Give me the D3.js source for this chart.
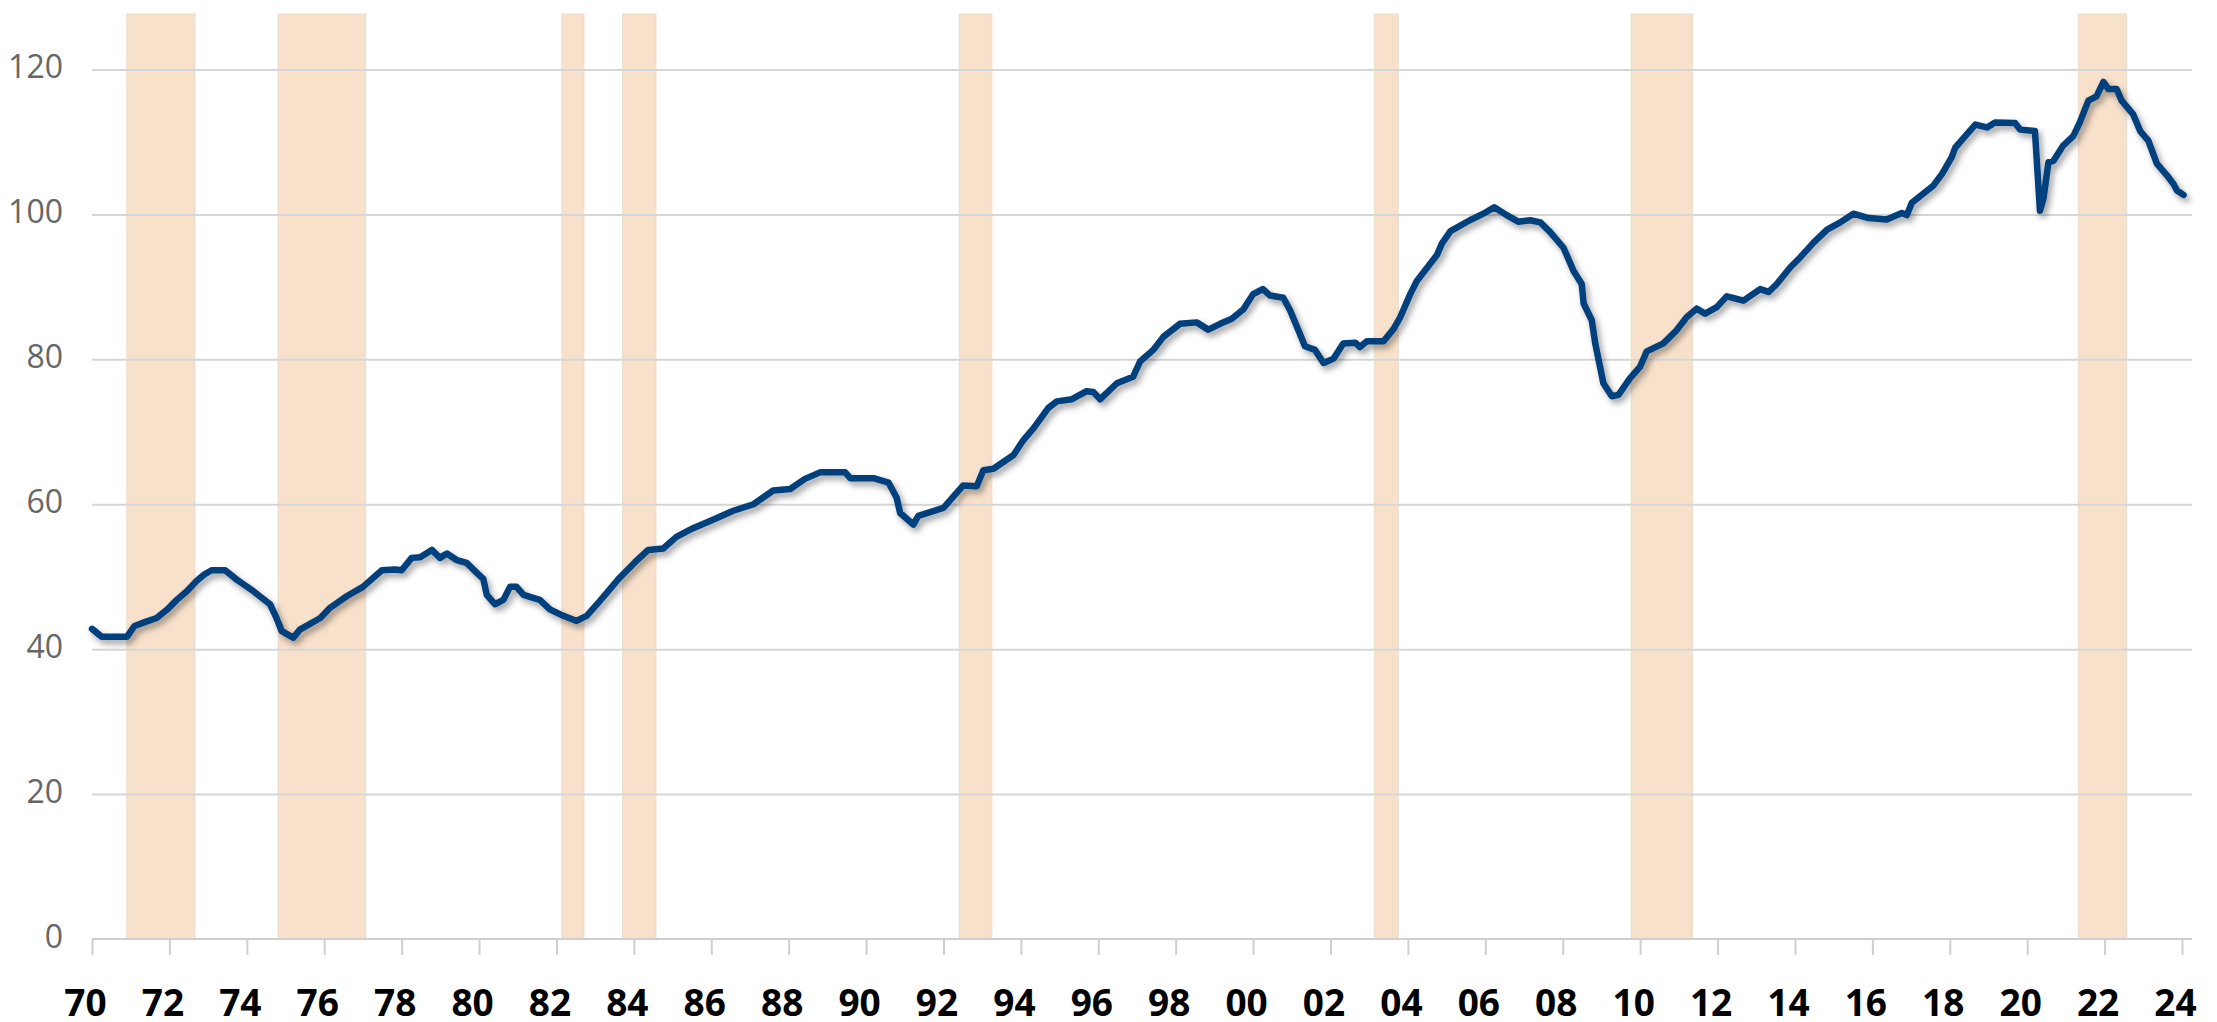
<!DOCTYPE html>
<html>
<head>
<meta charset="utf-8">
<script src="https://cdn.jsdelivr.net/npm/d3@7"></script>
<style>
html,body{margin:0;padding:0;background:#fff;overflow:hidden}
svg{display:block}
</style>
</head>
<body>
<svg id="chart" width="2217" height="1022"></svg>
<script>
// ---- data (decimal years, index values) ----
const years = [
1970.00,1970.25,1970.90,1971.10,1971.40,1971.67,1971.95,1972.19,1972.45,1972.70,1972.90,1973.09,1973.44,1973.74,
1974.17,1974.60,1974.75,1974.90,1975.20,1975.37,1975.90,1976.15,1976.58,1977.00,1977.49,1977.83,1978.00,1978.26,
1978.48,1978.78,1978.99,1979.17,1979.42,1979.68,1979.95,1980.11,1980.20,1980.41,1980.63,1980.80,1980.97,1981.15,
1981.57,1981.83,1982.18,1982.52,1982.78,1983.08,1983.64,1984.03,1984.37,1984.76,1985.10,1985.53,1985.97,1986.57,
1987.09,1987.60,1988.04,1988.42,1988.81,1989.46,1989.59,1990.19,1990.58,1990.79,1990.88,1991.22,1991.35,1992.00,
1992.51,1992.86,1993.03,1993.29,1993.81,1994.07,1994.33,1994.71,1994.93,1995.32,1995.70,1995.87,1996.05,1996.48,
1996.90,1997.08,1997.42,1997.68,1998.11,1998.54,1998.84,1999.15,1999.45,1999.75,2000.00,2000.25,2000.44,2000.78,
2000.96,2001.21,2001.34,2001.60,2001.82,2002.08,2002.33,2002.64,2002.76,2002.94,2003.37,2003.63,2003.80,2004.06,
2004.23,2004.49,2004.75,2004.88,2005.10,2005.60,2005.95,2006.23,2006.55,2006.85,2007.16,2007.42,2007.67,2008.02,
2008.28,2008.49,2008.54,2008.75,2008.84,2009.05,2009.27,2009.44,2009.74,2010.00,2010.17,2010.60,2010.94,2011.20,
2011.46,2011.68,2011.98,2012.24,2012.67,2013.10,2013.32,2013.53,2013.88,2014.14,2014.48,2014.83,2015.17,2015.51,
2015.90,2016.37,2016.76,2016.89,2017.02,2017.32,2017.58,2017.80,2018.05,2018.14,2018.40,2018.66,2018.96,2019.17,
2019.69,2019.82,2020.20,2020.33,2020.42,2020.55,2020.68,2020.93,2021.19,2021.36,2021.58,2021.79,2021.97,2022.10,
2022.31,2022.44,2022.74,2022.92,2023.13,2023.35,2023.61,2023.78,2023.87,2024.04
];
const values = [
42.8,41.7,41.7,43.2,43.8,44.3,45.5,46.8,48.0,49.4,50.3,50.9,50.9,49.6,
48.0,46.2,44.5,42.5,41.6,42.7,44.3,45.7,47.3,48.6,50.9,51.0,50.9,52.6,
52.7,53.7,52.6,53.2,52.3,51.9,50.5,49.7,47.5,46.2,46.8,48.6,48.6,47.5,
46.8,45.5,44.6,43.9,44.6,46.4,49.9,52.0,53.7,53.9,55.5,56.7,57.7,59.1,
60.0,61.9,62.1,63.5,64.4,64.4,63.6,63.6,63.0,60.9,58.8,57.2,58.4,59.5,
62.6,62.5,64.7,64.9,66.8,68.9,70.5,73.3,74.2,74.5,75.6,75.5,74.5,76.7,
77.6,79.7,81.3,83.1,84.9,85.1,84.1,84.9,85.6,86.9,89.0,89.7,88.8,88.5,
86.7,83.5,81.8,81.3,79.5,80.1,82.2,82.3,81.7,82.5,82.5,84.2,85.8,89.0,
90.8,92.6,94.4,96.0,97.7,99.2,100.1,101.0,99.9,99.0,99.2,98.9,97.6,95.4,
92.2,90.4,87.7,85.4,82.2,76.7,74.9,75.1,77.4,79.0,81.1,82.2,84.0,85.8,
87.0,86.3,87.2,88.7,88.1,89.7,89.3,90.4,92.7,94.1,96.1,97.9,98.9,100.1,
99.5,99.3,100.2,99.9,101.6,102.9,104.0,105.6,107.9,109.2,110.8,112.4,112.0,112.7,
112.6,111.7,111.5,100.5,102.2,107.2,107.4,109.5,110.8,112.7,115.7,116.3,118.3,117.3,
117.3,115.7,113.8,111.5,110.2,107.0,105.4,104.2,103.3,102.7
];
// shaded periods
const bandStarts = [1970.90, 1974.81, 1982.14, 1983.71, 1992.41, 2003.13, 2009.77, 2021.32];
const bandEnds   = [1972.66, 1977.07, 1982.71, 1984.57, 1993.25, 2003.75, 2011.35, 2022.57];
const yTicks = [0, 20, 40, 60, 80, 100, 120];
const xTicks = d3.range(1970, 2025, 2);

// ---- layout ----
const W = 2217, H = 1022;
const mLeft = 92, mRight = 2182, mTop = 69.5, mBottom = 939;
const gridEnd = 2192, bandTop = 14;

const x = d3.scaleLinear().domain([1970, 2024]).range([mLeft, mRight]);
const y = d3.scaleLinear().domain([0, 120]).range([mBottom, mTop]);

const svg = d3.select("#chart");
svg.append("rect").attr("width", W).attr("height", H).attr("fill", "#fff");

const defs = svg.append("defs");
const f = defs.append("filter").attr("id", "shadow")
  .attr("x", "-5%").attr("y", "-5%").attr("width", "110%").attr("height", "120%");
f.append("feDropShadow").attr("dx", 3).attr("dy", 4).attr("stdDeviation", 3)
  .attr("flood-color", "#000").attr("flood-opacity", 0.38);

// bands
const bands = bandStarts.map((s, i) => ({s, e: bandEnds[i]}));
svg.append("g").selectAll("rect").data(bands).join("rect")
  .attr("x", d => x(d.s))
  .attr("width", d => x(d.e) - x(d.s))
  .attr("y", bandTop)
  .attr("height", mBottom - bandTop)
  .attr("fill", "#F8E1CB")
  .attr("stroke", "#eadbcc")
  .attr("stroke-width", 1);

// y axis with gridlines
const yAxis = svg.append("g")
  .attr("transform", `translate(${mLeft},0)`)
  .call(d3.axisLeft(y).tickValues(yTicks.filter(v => v > 0)).tickSize(-(gridEnd - mLeft)).tickPadding(29));
yAxis.select(".domain").remove();
yAxis.selectAll(".tick line").attr("stroke", "#d6d6d6").attr("stroke-width", 2);
yAxis.selectAll(".tick text")
  .attr("font-family", "'Open Sans', sans-serif")
  .attr("font-size", 32)
  .attr("fill", "#666")
  .attr("dy", "0.25em");

// zero label
const yAxis0 = svg.append("g")
  .attr("transform", `translate(${mLeft},0)`)
  .call(d3.axisLeft(y).tickValues([0]).tickSize(0).tickPadding(29));
yAxis0.select(".domain").remove();
yAxis0.selectAll(".tick text")
  .attr("font-family", "'Open Sans', sans-serif")
  .attr("font-size", 32)
  .attr("fill", "#666")
  .attr("dy", "0.25em");

// x axis
const xAxis = svg.append("g")
  .attr("transform", `translate(0,${mBottom})`)
  .call(d3.axisBottom(x).tickValues(xTicks).tickSize(16).tickSizeOuter(0).tickPadding(35)
    .tickFormat(d => String(d % 100).padStart(2, "0")));
xAxis.select(".domain").remove();
xAxis.append("line")
  .attr("x1", mLeft).attr("x2", gridEnd).attr("y1", 0).attr("y2", 0)
  .attr("stroke", "#cfcfcf").attr("stroke-width", 2);
xAxis.selectAll(".tick line").attr("stroke", "#cfcfcf").attr("stroke-width", 2);
xAxis.selectAll(".tick text")
  .attr("font-family", "'Open Sans', sans-serif")
  .attr("font-weight", 700)
  .attr("font-size", 37)
  .attr("fill", "#000")
  .attr("dx", -7);

// line
const pts = years.map((yr, i) => ({yr, v: values[i]}));
const line = d3.line().x(d => x(d.yr)).y(d => y(d.v));
svg.append("path")
  .datum(pts)
  .attr("d", line)
  .attr("fill", "none")
  .attr("stroke", "#003F7D")
  .attr("stroke-width", 6.5)
  .attr("stroke-linejoin", "round")
  .attr("stroke-linecap", "round")
  .attr("filter", "url(#shadow)");
</script>
</body>
</html>
